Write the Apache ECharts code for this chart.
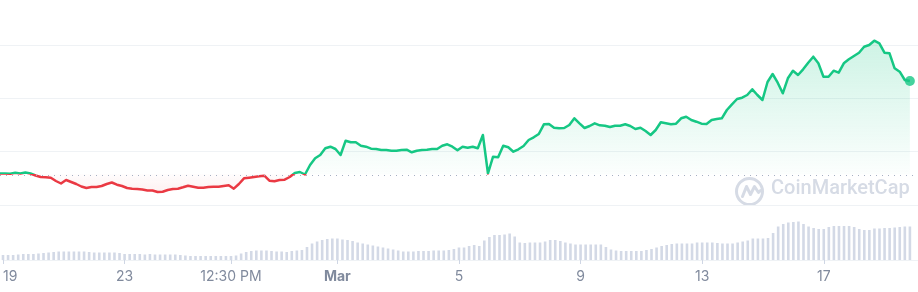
<!DOCTYPE html>
<html>
<head>
<meta charset="utf-8">
<script src="https://cdn.jsdelivr.net/npm/echarts@6/dist/echarts.min.js"></script>
<style>
html,body{margin:0;padding:0;background:#fff;}
#chart{width:918px;height:292px;}
</style>
</head>
<body>
<div id="chart"></div>
<script>
// Time series sampled every 4 hours starting Feb 19 00:00 (hour 0)
const startHour = 0;
const stepHours = 4;

const prices = [
0.5745,0.5745,0.5736,0.5766,0.5745,0.5775,0.5745,0.5685,0.564,0.5631,
0.5619,0.552,0.5445,0.555,0.549,0.543,0.5355,0.531,0.534,0.534,
0.537,0.543,0.5475,0.5409,0.537,0.531,0.5289,0.528,0.5265,0.5235,
0.5235,0.519,0.5199,0.525,0.528,0.5289,0.5331,0.5379,0.5349,0.5319,
0.5319,0.534,0.5349,0.5349,0.537,0.5391,0.5289,0.543,0.5601,0.5619,
0.564,0.5661,0.5679,0.5529,0.5511,0.555,0.5559,0.564,0.576,0.579,
0.5715,0.6,0.6201,0.63,0.6501,0.6549,0.648,0.63,0.6729,0.6681,
0.6681,0.6579,0.6549,0.6489,0.648,0.645,0.645,0.6429,0.6429,0.645,
0.6459,0.6381,0.6429,0.645,0.6459,0.648,0.648,0.6579,0.6621,0.6549,
0.6441,0.6549,0.6519,0.6549,0.6501,0.69,0.5745,0.6249,0.6231,0.6579,
0.6531,0.6399,0.6471,0.657,0.675,0.6831,0.693,0.7221,0.723,0.7119,
0.7101,0.711,0.72,0.7401,0.7251,0.711,0.717,0.7251,0.7191,0.7179,
0.714,0.7179,0.7179,0.7221,0.717,0.708,0.7119,0.702,0.69,0.705,
0.7281,0.7251,0.7221,0.7239,0.7401,0.7449,0.735,0.7299,0.7239,0.723,
0.735,0.738,0.7401,0.765,0.7821,0.798,0.8019,0.81,0.8271,0.81,
0.795,0.849,0.873,0.8469,0.8151,0.8601,0.8829,0.87,0.8871,0.9069,
0.9249,0.9051,0.8649,0.8649,0.8829,0.8769,0.9051,0.9171,0.927,0.9369,
0.9549,0.96,0.9729,0.9651,0.9369,0.9351,0.8901,0.8799,0.855,0.852
];

const volumes = [
10,10,10,11,12,12,12,13,14,15,
16,17,17,17,17,17,17,16,15,15,
15,15,15,14,12,12,12,12,11,12,
11,11,11,11,11,10,9,8,8,8,
8,8,8,8,8,8,9,13,16,18,
19,19,19,18,17,17,16,18,19,20,
26,33,37,40,42,43,43,41,40,38,
35,33,31,29,27,25,23,21,19,17,
17,17,18,18,18,19,19,19,20,22,
25,25,28,30,28,39,46,50,50,51,
53,47,35,34,35,35,35,37,40,40,
38,35,33,31,31,31,31,31,31,26,
21,19,18,18,18,18,18,20,22,25,
28,30,32,33,33,33,33,35,35,35,
35,34,33,33,33,35,37,39,43,43,
43,44,54,67,72,75,76,77,72,67,
64,62,62,66,68,68,68,68,66,62,
60,60,63,63,64,64,65,66,67,67
];

// Opening price (baseline for colouring)
const openPrice = 0.572;

// X tick labels (hour offsets from Feb 19 00:00)
const tickHours = [0, 96, 180, 264, 360, 456, 552, 648];
const tickLabels = ['19', '23', '12:30 PM', 'Mar', '5', '9', '13', '17'];

const GREEN = '#16c784';
const RED = '#ea3943';
const CHART_H = 292;

const times = prices.map((_, i) => startHour + i * stepHours);
const lineData = prices.map((p, i) => [times[i], p]);
const upData = prices.map((p, i) => [times[i], Math.max(p, openPrice)]);
const downData = prices.map((p, i) => [times[i], Math.min(p, openPrice)]);
const volData = volumes.map((v, i) => [times[i], v]);
const lastPoint = [lineData[lineData.length - 1]];

const xMax = 722.4;

const chart = echarts.init(document.getElementById('chart'), null, {renderer: 'canvas'});

function lineGradient(baseY) {
  const o = Math.max(0, Math.min(1, baseY / CHART_H));
  return new echarts.graphic.LinearGradient(0, 0, 0, CHART_H, [
    {offset: 0, color: GREEN},
    {offset: o, color: GREEN},
    {offset: o, color: RED},
    {offset: 1, color: RED}
  ], true);
}

chart.setOption({
  animation: false,
  textStyle: {fontFamily: 'Inter, "Noto Sans", sans-serif'},
  grid: [
    {left: 0, right: 0, top: 0, bottom: 33.67},
    {left: 0, right: 0, top: 160, bottom: 32}
  ],
  xAxis: [
    {type: 'value', gridIndex: 0, min: 0, max: xMax, show: false},
    {
      type: 'value', gridIndex: 1, min: 0, max: xMax,
      splitLine: {show: false},
      axisLine: {show: true, lineStyle: {color: '#eff2f5', width: 1}},
      axisTick: {show: true, length: 4, customValues: tickHours, lineStyle: {color: '#cfd6e4'}},
      axisLabel: {
        customValues: tickHours,
        alignMinLabel: 'left',
        margin: 10,
        color: '#808a9d',
        fontSize: 14,
        formatter: function (v) {
          const idx = tickHours.indexOf(v);
          const t = idx >= 0 ? tickLabels[idx] : '';
          return t === 'Mar' ? '{b|' + t + '}' : t;
        },
        rich: {b: {fontWeight: 'bold', color: '#808a9d', fontSize: 14}}
      }
    }
  ],
  yAxis: [
    {
      type: 'value', gridIndex: 0, min: 0.32, max: 1.095, interval: 0.16,
      axisLabel: {show: false}, axisLine: {show: false}, axisTick: {show: false},
      splitLine: {show: true, showMinLine: false, showMaxLine: false, lineStyle: {color: '#eff2f5', width: 1}}
    },
    {
      type: 'value', gridIndex: 1, min: 0, max: 200,
      show: false, splitLine: {show: false}
    }
  ],
  series: [
    {
      type: 'bar', xAxisIndex: 1, yAxisIndex: 1, data: volData,
      barWidth: 2.6, itemStyle: {color: '#d3d9e6'}, silent: true, z: 0
    },
    {
      type: 'line', xAxisIndex: 0, yAxisIndex: 0, data: upData,
      showSymbol: false, silent: true, z: 1,
      lineStyle: {width: 0, opacity: 0},
      areaStyle: {
        origin: openPrice,
        color: new echarts.graphic.LinearGradient(0, 0, 0, 1, [
          {offset: 0, color: 'rgba(22,199,132,0.30)'},
          {offset: 1, color: 'rgba(22,199,132,0.02)'}
        ])
      }
    },
    {
      type: 'line', xAxisIndex: 0, yAxisIndex: 0, data: downData,
      showSymbol: false, silent: true, z: 1,
      lineStyle: {width: 0, opacity: 0},
      areaStyle: {
        origin: openPrice,
        color: new echarts.graphic.LinearGradient(0, 0, 0, 1, [
          {offset: 0, color: 'rgba(234,57,67,0.02)'},
          {offset: 1, color: 'rgba(234,57,67,0.10)'}
        ])
      }
    },
    {
      id: 'price',
      type: 'line', xAxisIndex: 0, yAxisIndex: 0, data: lineData,
      showSymbol: false, z: 3,
      lineStyle: {width: 2.5, color: GREEN, join: 'round'},
      markLine: {
        silent: true, symbol: 'none', label: {show: false},
        lineStyle: {type: [1, 5], color: '#a6b0c3', width: 1},
        data: [{yAxis: openPrice}]
      }
    },
    {
      type: 'scatter', xAxisIndex: 0, yAxisIndex: 0, data: lastPoint,
      symbolSize: 10, itemStyle: {color: GREEN}, z: 4
    }
  ],
  graphic: [
    {
      type: 'circle', left: 734, top: 176, z: 0,
      shape: {r: 13},
      style: {fill: 'none', stroke: '#d6dbe5', lineWidth: 3}
    },
    {
      type: 'polyline', left: 740, top: 184, z: 0,
      shape: {points: [[0, 12], [4, 2], [8, 10], [12, 2], [16, 8], [18, 6]]},
      style: {fill: 'none', stroke: '#d6dbe5', lineWidth: 3, lineJoin: 'round', lineCap: 'round'}
    },
    {
      type: 'text', left: 771, top: 179, z: 0,
      style: {text: 'CoinMarketCap', fill: '#d6dbe5', font: '500 20px Roboto, "Noto Sans", sans-serif'}
    }
  ]
});

const baseY = chart.convertToPixel({yAxisIndex: 0}, openPrice);
chart.setOption({series: [{id: 'price', lineStyle: {color: lineGradient(baseY)}}]});
</script>
</body>
</html>
